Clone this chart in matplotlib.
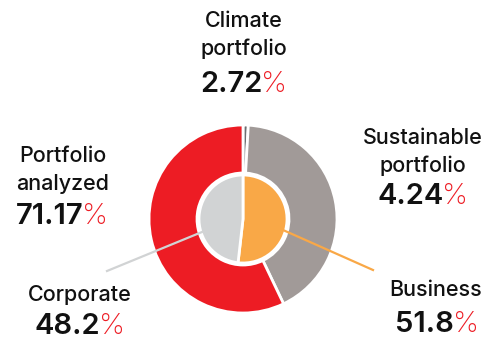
import matplotlib
matplotlib.use("Agg")
import matplotlib.pyplot as plt
from matplotlib.offsetbox import TextArea, HPacker, AnnotationBbox

# Outer ring: share of each portfolio segment
ring_labels = ['Climate\nportfolio', 'Sustainable\nportfolio', 'Portfolio\nanalyzed']
ring_values = ['2.72', '4.24', '71.17']
ring_shares = [0.9, 42.0, 57.1]
ring_colors = ['#6d6e71', '#a19a98', '#ed1c24']

# Inner pie: business vs corporate
inner_labels = ['Business', 'Corporate']
inner_values = [51.8, 48.2]
inner_colors = ['#f9a847', '#d1d3d4']

plt.rcParams['font.family'] = ['Inter', 'DejaVu Sans']

W, H = 493, 340
fig = plt.figure(figsize=(W / 100, H / 100), dpi=100)
ax = fig.add_axes([0, 0, 1, 1])

cx, cy = 243, H - 219

ax.pie(ring_shares, radius=94, center=(cx, cy), startangle=90, counterclock=False,
       colors=ring_colors, wedgeprops=dict(width=48, edgecolor='white', linewidth=2))
ax.pie(inner_values, radius=44, center=(cx, cy), startangle=90, counterclock=False,
       colors=inner_colors, wedgeprops=dict(edgecolor='white', linewidth=2))

# leader lines from the inner pie to its labels
ax.plot([283, 373], [H - 230, H - 270], color=inner_colors[0], lw=1.6, zorder=5)
ax.plot([202, 107], [H - 232, H - 271], color=inner_colors[1], lw=1.6, zorder=5)

ax.set_xlim(0, W)
ax.set_ylim(0, H)
ax.set_aspect('auto')
ax.axis('off')

label_kw = dict(fontsize=15.5, color='#111111', ha='center', va='center',
                fontweight='medium', linespacing=1.5)


def value(x, y, num):
    parts = HPacker(children=[
        TextArea(num, textprops=dict(fontsize=21, fontweight='semibold', color='#111111')),
        TextArea('%', textprops=dict(fontsize=21, fontweight='light', color='#ed1c24')),
    ], pad=0, sep=-1, align='baseline')
    ab = AnnotationBbox(parts, (x, H - y), frameon=False, box_alignment=(0.5, 0.5), pad=0)
    ax.add_artist(ab)


ax.text(244, H - 35, ring_labels[0], **label_kw)
value(244, 84, ring_values[0])
ax.text(423, H - 152, ring_labels[1], **label_kw)
value(423, 196, ring_values[1])
ax.text(63, H - 170, ring_labels[2], **label_kw)
value(62, 216, ring_values[2])

ax.text(80, H - 295, inner_labels[1], **label_kw)
value(80, 327, f'{inner_values[1]:.1f}')
ax.text(436, H - 290, inner_labels[0], **label_kw)
value(437, 324, f'{inner_values[0]:.1f}')

fig.savefig('out.png', dpi=100)
